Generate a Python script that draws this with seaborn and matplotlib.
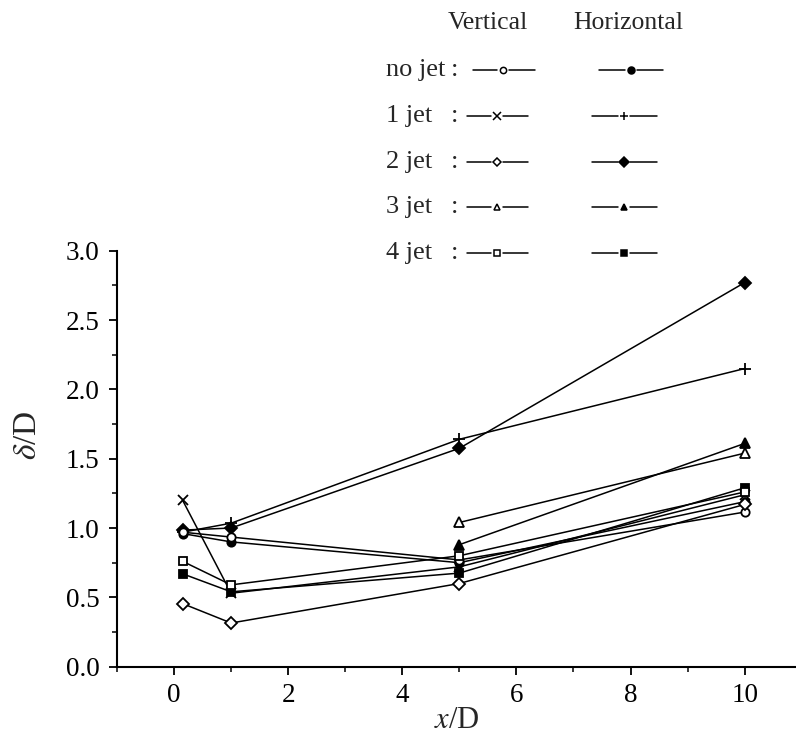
import numpy as np
import pandas as pd
import matplotlib
matplotlib.use("Agg")
import matplotlib.pyplot as plt
from matplotlib.lines import Line2D
import seaborn as sns

# ---------------- data ----------------
x_pos = [0.15, 1.0, 5.0, 10.0]
x_pos3 = [5.0, 10.0]

no_jet_v = [0.97, 0.935, 0.77, 1.115]
no_jet_h = [0.96, 0.90, 0.75, 1.19]
jet1_v = [1.20, 0.53, 0.72, 1.24]
jet1_h = [0.97, 1.035, 1.64, 2.15]
jet2_v = [0.455, 0.315, 0.60, 1.17]
jet2_h = [0.985, 1.00, 1.575, 2.77]
jet3_v = [1.04, 1.54]
jet3_h = [0.88, 1.61]
jet4_v = [0.76, 0.59, 0.80, 1.26]
jet4_h = [0.67, 0.54, 0.675, 1.29]

row_labels = ["no jet", "1 jet", "2 jet", "3 jet", "4 jet"]
col_titles = ["Vertical", "Horizontal"]
x_ticks = [0, 2, 4, 6, 8, 10]
y_ticks = [0.0, 0.5, 1.0, 1.5, 2.0, 2.5, 3.0]

# ---------------- style ----------------
sns.set_style("ticks")
plt.rcParams["font.family"] = ["Liberation Serif", "DejaVu Serif"]
plt.rcParams["mathtext.fontset"] = "stix"

W, H = 796, 734
fig = plt.figure(figsize=(W / 100, H / 100), dpi=100)
fig.patch.set_facecolor("white")

def fx(px):
    return px / W

def fy(py):
    return 1 - py / H

ax_left, ax_right, ax_bottom, ax_top = 117, 796, 666.7, 250.7
ax = fig.add_axes([fx(ax_left), fy(ax_bottom), (ax_right - ax_left) / W, (ax_bottom - ax_top) / H])
ax.set_facecolor("none")

# series spec: (x, y, marker, filled, size)
series = [
    (x_pos, no_jet_h, "o", True, 6.0),
    (x_pos, jet1_h, "+", True, 8.0),
    (x_pos, jet2_h, "D", True, 6.5),
    (x_pos3, jet3_h, "^", True, 7.0),
    (x_pos, jet4_h, "s", True, 6.0),
    (x_pos, jet1_v, "x", False, 7.0),
    (x_pos, no_jet_v, "o", False, 6.0),
    (x_pos, jet2_v, "D", False, 6.5),
    (x_pos3, jet3_v, "^", False, 7.0),
    (x_pos, jet4_v, "s", False, 6.0),
]

for xs, ys, mk, filled, ms in series:
    df = pd.DataFrame({"x": xs, "y": ys})
    sns.lineplot(
        data=df, x="x", y="y", ax=ax, color="black", linewidth=1.1,
        marker=mk, markersize=ms,
        markerfacecolor=("black" if filled else "white"),
        markeredgecolor="black", markeredgewidth=1.3,
        sort=False, estimator=None, legend=False,
    )

ax.set_xlim(-1.0, 10.9)
ax.set_ylim(0.0, 3.0)
ax.set_xticks(x_ticks)
ax.set_xticklabels([str(t) for t in x_ticks])
ax.set_xticks([-1, 1, 3, 5, 7, 9], minor=True)
ax.set_yticks(y_ticks)
ax.set_yticklabels([f"{t:.1f}" for t in y_ticks])
ax.set_yticks(np.arange(0.25, 3.0, 0.5), minor=True)

for s in ["top", "right"]:
    ax.spines[s].set_visible(False)
for s in ["left", "bottom"]:
    ax.spines[s].set_linewidth(1.5)
    ax.spines[s].set_color("black")

ax.tick_params(axis="both", which="major", direction="out", length=6, width=1.3,
               labelsize=19.5, colors="black")
ax.tick_params(axis="y", which="major", pad=6.5)
ax.tick_params(axis="x", which="major", pad=6)
ax.tick_params(axis="both", which="minor", direction="out", length=3.5, width=1.1,
               colors="black")

ax.set_xlabel("$x$/D", fontsize=22)
ax.set_ylabel(r"$\delta$/D", fontsize=24)
ax.xaxis.set_label_coords((457 - ax_left) / (ax_right - ax_left), (ax_bottom - 721) / (ax_bottom - ax_top))
ax.xaxis.label.set_verticalalignment("center")
ax.yaxis.set_label_coords((28 - ax_left) / (ax_right - ax_left), (ax_bottom - 435) / (ax_bottom - ax_top))
ax.yaxis.label.set_verticalalignment("center")

# ---------------- custom legend ----------------
fig.text(fx(488), fy(23), col_titles[0], fontsize=18.5, ha="center", va="center")
fig.text(fx(628), fy(23), col_titles[1], fontsize=18.5, ha="center", va="center")

row_y = [70, 116, 162, 207, 253]
colon_x = [455, 455, 455, 455, 455]
leg_markers = [("o", "x", "D", "^", "s"), ("o", "+", "D", "^", "s")]
for i, (lab, py) in enumerate(zip(row_labels, row_y)):
    fig.text(fx(386), fy(py), lab, fontsize=19, ha="left", va="center")
    fig.text(fx(colon_x[i]), fy(py), ":", fontsize=19, ha="center", va="center")
    # vertical (open) sample
    if i == 0:
        l0, mx, l1 = 473, 503, 535
    else:
        l0, mx, l1 = 467, 497, 528
    for a, b in [(l0, mx - 6), (mx + 6, l1)]:
        fig.add_artist(Line2D([fx(a), fx(b)], [fy(py), fy(py)], color="black", lw=1.1,
                              transform=fig.transFigure))
    mk = leg_markers[0][i]
    fig.add_artist(Line2D([fx(mx)], [fy(py)], marker=mk, markersize=4.5 if mk != "x" else 5.5,
                          mfc="white", mec="black", mew=1.1, linestyle="none",
                          transform=fig.transFigure))
    # horizontal (filled) sample
    if i == 0:
        l0, mx, l1 = 599, 631, 663
    else:
        l0, mx, l1 = 592, 624, 657
    for a, b in [(l0, mx - 6), (mx + 6, l1)]:
        fig.add_artist(Line2D([fx(a), fx(b)], [fy(py), fy(py)], color="black", lw=1.1,
                              transform=fig.transFigure))
    mk = leg_markers[1][i]
    fig.add_artist(Line2D([fx(mx)], [fy(py)], marker=mk, markersize=5 if mk != "+" else 5.5,
                          mfc="black", mec="black", mew=1.1, linestyle="none",
                          transform=fig.transFigure))

fig.savefig("out.png", dpi=100, facecolor="white")
